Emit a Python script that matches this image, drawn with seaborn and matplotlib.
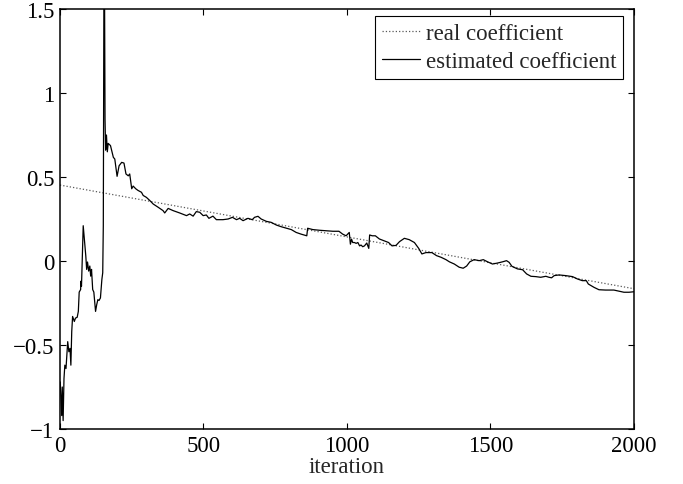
import numpy as np
import pandas as pd
import matplotlib
matplotlib.use("Agg")
import matplotlib.pyplot as plt
import seaborn as sns

# real coefficient (straight line, read at the two ends)
real_iter = [0, 2000]
real_coef = [0.452, -0.165]

# estimated coefficient
est_iter = [1, 6, 8, 11, 14, 17, 21, 27, 31, 35, 38, 41, 44, 50, 54, 60, 64, 67, 72, 73,
            75, 81, 85, 90, 93, 96, 100, 104, 107, 110, 114, 118, 124, 128, 132, 136, 141,
            146, 149, 151, 154, 157, 159, 162, 165, 168, 176, 186, 191, 199, 206, 215, 223,
            230, 238, 243, 250, 255, 264, 272, 284, 290, 301, 313, 325, 342, 359, 365, 377,
            394, 417, 441, 452, 464, 475, 487, 499, 510, 519, 533, 545, 568, 586, 601, 615,
            626, 638, 655, 670, 678, 690, 701, 719, 736, 754, 771, 789, 806, 823, 840, 860,
            863, 881, 904, 927, 951, 972, 985, 997, 1008, 1012, 1016, 1020, 1026, 1032, 1038,
            1044, 1049, 1055, 1061, 1069, 1076, 1079, 1088, 1099, 1113, 1130, 1145, 1157,
            1171, 1183, 1200, 1217, 1235, 1250, 1261, 1275, 1296, 1312, 1328, 1345, 1357,
            1374, 1391, 1405, 1417, 1428, 1443, 1461, 1475, 1490, 1507, 1525, 1542, 1556,
            1565, 1575, 1594, 1612, 1626, 1641, 1658, 1675, 1693, 1704, 1713, 1722, 1739,
            1762, 1786, 1803, 1820, 1834, 1841, 1861, 1878, 1901, 1930, 1948, 1965, 1983, 2000]
est_coef = [-0.72, -0.92, -0.75, -0.95, -0.70, -0.62, -0.64, -0.48, -0.54, -0.52, -0.62, -0.42,
            -0.33, -0.36, -0.34, -0.335, -0.30, -0.185, -0.17, -0.12, -0.15, 0.21, 0.13, 0.03,
            -0.05, -0.006, -0.06, -0.03, -0.09, -0.05, -0.17, -0.185, -0.30, -0.26, -0.23,
            -0.235, -0.22, -0.11, -0.07, 0.21, 2.2, 0.845, 0.66, 0.75, 0.65, 0.70, 0.687,
            0.617, 0.607, 0.504, 0.567, 0.587, 0.583, 0.518, 0.507, 0.518, 0.43, 0.446, 0.43,
            0.42, 0.409, 0.39, 0.379, 0.36, 0.339, 0.32, 0.30, 0.286, 0.313, 0.30, 0.286, 0.27,
            0.28, 0.267, 0.294, 0.29, 0.27, 0.274, 0.254, 0.267, 0.246, 0.246, 0.25, 0.26,
            0.246, 0.254, 0.24, 0.254, 0.246, 0.26, 0.266, 0.25, 0.236, 0.23, 0.214, 0.204,
            0.195, 0.187, 0.17, 0.16, 0.15, 0.195, 0.187, 0.183, 0.18, 0.177, 0.177, 0.16,
            0.15, 0.17, 0.10, 0.13, 0.11, 0.11, 0.105, 0.11, 0.09, 0.095, 0.085, 0.09, 0.107,
            0.075, 0.155, 0.15, 0.15, 0.131, 0.12, 0.11, 0.09, 0.093, 0.115, 0.135, 0.127,
            0.11, 0.075, 0.042, 0.05, 0.05, 0.032, 0.022, 0.008, -0.005, -0.018, -0.037,
            -0.043, -0.03, -0.005, 0.008, 0.002, 0.008, -0.005, -0.018, -0.012, -0.005, 0.002,
            -0.008, -0.032, -0.047, -0.052, -0.077, -0.091, -0.093, -0.097, -0.091, -0.097,
            -0.10, -0.087, -0.083, -0.087, -0.093, -0.107, -0.117, -0.117, -0.137, -0.157,
            -0.171, -0.173, -0.173, -0.18, -0.186, -0.186, -0.183]

x_ticks = [0, 500, 1000, 1500, 2000]
y_ticks = [-1, -0.5, 0, 0.5, 1, 1.5]
y_labels = ['\u22121', '\u22120.5', '0', '0.5', '1', '1.5']

sns.set_style("ticks")
plt.rcParams['font.family'] = ['Liberation Serif', 'DejaVu Serif']
plt.rcParams['font.size'] = 16.5

real = pd.DataFrame({'iteration': real_iter, 'coef': real_coef})
est = pd.DataFrame({'iteration': est_iter, 'coef': est_coef})

fig = plt.figure(figsize=(6.83, 4.85), dpi=100)
ax = fig.add_axes([0.0878, 0.1134, 0.8404, 0.8660])

sns.lineplot(data=real, x='iteration', y='coef', ax=ax, color='0.35', lw=0.9,
             linestyle=':', label='real coefficient', estimator=None)
sns.lineplot(data=est, x='iteration', y='coef', ax=ax, color='k', lw=0.9,
             label='estimated coefficient', estimator=None)

ax.set_xlim(0, 2000)
ax.set_ylim(-1, 1.5)
ax.set_xticks(x_ticks)
ax.set_xticklabels([str(t) for t in x_ticks])
ax.set_yticks(y_ticks)
ax.set_yticklabels(y_labels)
ax.set_xlabel('iteration', labelpad=0)
ax.set_ylabel('')
ax.tick_params(direction='in', top=True, right=True, length=4, width=0.8, pad=4,
               colors='k', labelsize=16.5)
for s in ax.spines.values():
    s.set_visible(True)
    s.set_linewidth(1.1)
    s.set_color('k')

leg = ax.legend(loc='upper right', bbox_to_anchor=(0.981, 0.983), fancybox=False,
                framealpha=1, edgecolor='k', borderpad=0.3, labelspacing=0.3,
                handlelength=1.65, handletextpad=0.25, borderaxespad=0)
leg.get_frame().set_linewidth(0.8)

fig.savefig('out.png', dpi=100)
